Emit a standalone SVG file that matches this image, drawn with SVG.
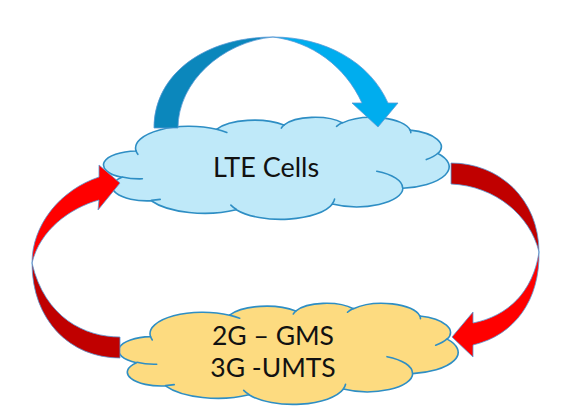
<svg xmlns="http://www.w3.org/2000/svg" width="569" height="416" viewBox="0 0 569 416">
<defs>
<style>
.cloud{stroke:#2e8ec4;stroke-width:1.6;stroke-linejoin:round}
.detail{fill:none;stroke:#2e8ec4;stroke-width:1.6;stroke-linecap:round}
.lbl{font-family:Lato,"Open Sans","Liberation Sans",sans-serif;font-size:27px;fill:#111;text-anchor:middle}
.lbl2{font-size:26.5px}
.edge{stroke:#5b9bd5;stroke-width:0.8;stroke-linejoin:miter}
.red-f{fill:#ff0000}
.red-b{fill:#c00000}
.blue-f{fill:#00adee}
.blue-b{fill:#0b87bc}
</style>
<path id="cloudShape" vector-effect="non-scaling-stroke" d="M3900,14370 A6753,9190 0 0 1 14005,5202 A5333,7267 0 0 1 22457,3433 A4365,5945 0 0 1 29833,2480 A4857,6595 0 0 1 38318,5575 A5333,7273 0 0 1 41818,15459 A6775,9220 0 0 1 37405,30204 A5785,7867 0 0 1 28556,36814 A6752,9215 0 0 1 16481,39267 A7720,10543 0 0 1 5805,35473 A4360,5918 0 0 1 2114,25551 A4345,5945 0 0 1 3900,14370 Z"/>
<path id="cloudDetail" vector-effect="non-scaling-stroke" d="M4693,26177 A4345,5945 0 0 1 2160,25380 M6928,34899 A4360,5918 0 0 1 5820,35281 M16478,39090 A6752,9215 0 0 1 15810,37348 M28827,34751 A6752,9215 0 0 1 28560,36660 M34129,22954 A5785,7867 0 0 1 37380,30090 M41798,15354 A5333,7273 0 0 1 40350,18031 M38324,5426 A4857,6595 0 0 1 38401,6689 M29078,3952 A4857,6595 0 0 1 29820,2339 M22141,4720 A4365,5945 0 0 1 22500,3331 M14000,5192 A6753,9190 0 0 1 15299,6540 M4127,15789 A6753,9190 0 0 1 3901,14371"/>
</defs>
<rect width="569" height="416" fill="#ffffff"/>

<g id="lte-cells">
<g transform="translate(105,117) scale(0.0079630,0.0023611)">
<use href="#cloudShape" class="cloud" fill="#bfe9f9"/>
<use href="#cloudDetail" class="detail"/>
</g>
<text class="lbl" x="266" y="177">LTE Cells</text>
</g>

<g id="legacy-cells">
<g transform="translate(120,303) scale(0.0078241,0.0023380)">
<use href="#cloudShape" class="cloud" fill="#fddb80"/>
<use href="#cloudDetail" class="detail"/>
</g>
<text class="lbl lbl2"><tspan x="273" y="345">2G – GMS</tspan><tspan x="273" y="377">3G -UMTS</tspan></text>
</g>

<g id="connectors">
<g id="handover-lte-lte">
<path class="blue-b edge" d="M154,128 C154,74 205,37 273,37 C222,42 178,82 178,128 Z"/>
<path class="blue-f edge" d="M273,37 C325,37 370,62 388,103 L398,103 L378,127 L352,103 L362,103 C345,66 312,42 273,37 Z"/>
</g>
<g id="handover-legacy-lte">
<path class="red-b edge" d="M120,337 C85,337 45,318 32,263 C32,320 70,358 120,358 Z"/>
<path class="red-f edge" d="M32,263 C32,225 60,190 99,177 L99,165 L120,183 L98,210 L99,200 C70,208 40,230 32,263 Z"/>
</g>
<g id="handover-lte-legacy">
<path class="red-b edge" d="M451,163 C500,163 539,200 539,252 C530,215 495,186 451,184 Z"/>
<path class="red-f edge" d="M539,252 C540,300 515,335 473,345 L473,357 L452,337 L473,312 L473,323 C508,316 533,292 539,252 Z"/>
</g>
</g>
</svg>
